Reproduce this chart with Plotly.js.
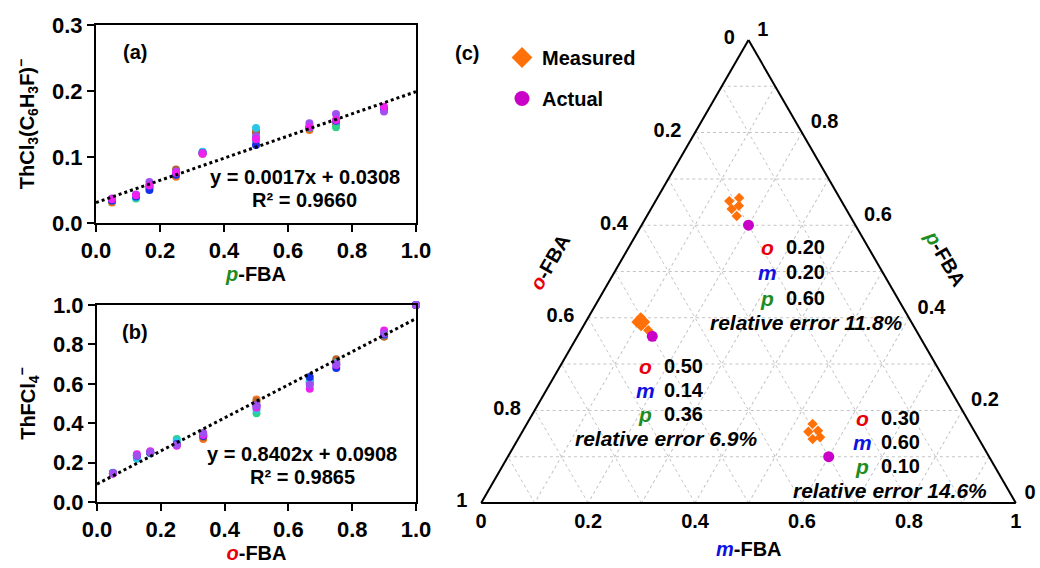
<!DOCTYPE html>
<html><head><meta charset="utf-8">
<script src="https://cdn.plot.ly/plotly-3.0.1.min.js"></script>
<style>html,body{margin:0;padding:0;background:#fff}</style>
</head><body><div id="chart" style="width:1040px;height:568px"></div>
<script>
// ---------- Panel (a): ThCl3(C6H3F)- vs p-FBA ----------
const xA = [0.05, 0.125, 0.167, 0.25, 0.333, 0.5, 0.667, 0.75, 0.9];
const aOrange  = [0.031, 0.040, 0.055, 0.070, 0.105, 0.139, 0.141, 0.150, 0.173];
const aBrown   = [0.033, 0.041, 0.056, 0.081, 0.106, 0.137, 0.143, 0.152, 0.174];
const aGreen   = [0.034, 0.037, 0.054, 0.074, 0.107, 0.125, 0.144, 0.145, 0.172];
const aCyan    = [0.035, 0.039, 0.055, 0.075, 0.108, 0.144, 0.146, 0.154, 0.171];
const aBlue    = [0.034, 0.040, 0.050, 0.073, 0.106, 0.118, 0.145, 0.155, 0.172];
const aPurple  = [0.037, 0.043, 0.062, 0.078, 0.106, 0.131, 0.151, 0.165, 0.169];
const aMagenta = [0.036, 0.042, 0.057, 0.076, 0.105, 0.127, 0.145, 0.156, 0.176];
const trendAx = [0, 1];
const trendAy = [0.031, 0.199];

// ---------- Panel (b): ThFCl4- vs o-FBA ----------
const xB = [0.05, 0.125, 0.167, 0.25, 0.333, 0.5, 0.667, 0.75, 0.9, 1.0];
const bOrange  = [0.145, 0.235, 0.250, 0.290, 0.320, 0.520, 0.605, 0.715, 0.840, 1.0];
const bBrown   = [0.146, 0.237, 0.250, 0.290, 0.330, 0.510, 0.615, 0.725, 0.840, 1.0];
const bGreen   = [0.147, 0.230, 0.252, 0.320, 0.340, 0.450, 0.600, 0.700, 0.850, 1.0];
const bCyan    = [0.148, 0.220, 0.248, 0.310, 0.340, 0.470, 0.610, 0.705, 0.850, 1.0];
const bBlue    = [0.146, 0.235, 0.250, 0.295, 0.335, 0.490, 0.635, 0.680, 0.850, 1.0];
const bMagenta = [0.145, 0.243, 0.257, 0.285, 0.340, 0.480, 0.575, 0.695, 0.870, 1.0];
const bPurple  = [0.146, 0.235, 0.253, 0.290, 0.350, 0.490, 0.595, 0.700, 0.855, 1.0];
const trendBx = [0, 1];
const trendBy = [0.091, 0.931];

// ---------- Panel (c): ternary ----------
const measuredP = [0.652, 0.659, 0.642, 0.635, 0.620, 0.401, 0.391, 0.391, 0.382, 0.373, 0.171, 0.154, 0.156, 0.138, 0.142];
const measuredO = [0.210, 0.188, 0.197, 0.214, 0.212, 0.501, 0.514, 0.498, 0.510, 0.501, 0.295, 0.311, 0.292, 0.311, 0.295];
const measuredM = [0.138, 0.153, 0.161, 0.151, 0.168, 0.098, 0.095, 0.111, 0.108, 0.126, 0.535, 0.535, 0.552, 0.551, 0.563];
const actualO = [0.20, 0.50, 0.30];
const actualM = [0.20, 0.14, 0.60];
const actualP = [0.60, 0.36, 0.10];
const relErrors = ['11.8%', '6.9%', '14.6%'];
const ternTicks = [0, 0.1, 0.2, 0.3, 0.4, 0.5, 0.6, 0.7, 0.8, 0.9, 1];

// ---------- helpers ----------
const W = 1040, H = 568;
const px = x => x / W;
const py = y => 1 - y / H;
const FONT = 'Liberation Sans, Arial, sans-serif';
const RED = '#E8000B', BLUE = '#1010E0', GREEN = '#1E8C1E';
const f = (size, color) => ({size, color: color || '#000', family: FONT, weight: 'bold'});

const colA = [
  ['#F5731E', aOrange], ['#B0652E', aBrown], ['#2ED38A', aGreen], ['#29C6E6', aCyan],
  ['#1530E8', aBlue], ['#A050F0', aPurple], ['#F020F0', aMagenta]
];
const colB = [
  ['#F5731E', bOrange], ['#B0652E', bBrown], ['#2ED38A', bGreen], ['#29C6E6', bCyan],
  ['#1530E8', bBlue], ['#F020F0', bMagenta], ['#A050F0', bPurple]
];

const traces = [];
colA.forEach(([c, ys]) => traces.push({
  type: 'scatter', mode: 'markers', x: xA, y: ys, xaxis: 'x', yaxis: 'y',
  marker: {color: c, size: 8}, showlegend: false, cliponaxis: false
}));
traces.push({type: 'scatter', mode: 'lines', x: trendAx, y: trendAy, xaxis: 'x', yaxis: 'y',
  line: {color: '#000', width: 3, dash: 'dot'}, showlegend: false});
colB.forEach(([c, ys]) => traces.push({
  type: 'scatter', mode: 'markers', x: xB, y: ys, xaxis: 'x2', yaxis: 'y2',
  marker: {color: c, size: 8}, showlegend: false, cliponaxis: false
}));
traces.push({type: 'scatter', mode: 'lines', x: trendBx, y: trendBy, xaxis: 'x2', yaxis: 'y2',
  line: {color: '#000', width: 3, dash: 'dot'}, showlegend: false});

// ternary: a = p-FBA (top), b = o-FBA (bottom-left), c = m-FBA (bottom-right)
traces.push({type: 'scatterternary', mode: 'markers', a: measuredP, b: measuredO, c: measuredM,
  marker: {symbol: 'diamond', color: '#FF7008', size: 8}, showlegend: false, cliponaxis: false});
traces.push({type: 'scatterternary', mode: 'markers', a: actualP, b: actualO, c: actualM,
  marker: {symbol: 'circle', color: '#C800C8', size: 11}, showlegend: false, cliponaxis: false});
// legend entries (no data points of their own)
traces.push({type: 'scatterternary', mode: 'markers', a: [null], b: [null], c: [null], name: 'Measured',
  legendgroup: 'g1', marker: {symbol: 'diamond', color: '#FF7008', size: 16}});
traces.push({type: 'scatterternary', mode: 'markers', a: [null], b: [null], c: [null], name: 'Actual',
  legendgroup: 'g2', marker: {symbol: 'circle', color: '#C800C8', size: 15}});

const revText = ternTicks.map((v, i) => i % 2 === 0 ? String(+(1 - v).toFixed(1)) : '');
const ternAxis = (pushOut) => ({
  tickmode: 'array', tickvals: ternTicks, ticktext: revText,
  ticks: pushOut ? 'outside' : '', ticklen: pushOut, tickcolor: 'rgba(0,0,0,0)',
  showline: true, linecolor: '#000', linewidth: 2,
  showgrid: true, gridcolor: '#C4C4C4', gridwidth: 1, griddash: 'dot',
  tickfont: f(20), title: {text: ''}
});

const cartAxis = (extra) => Object.assign({
  showline: true, linecolor: '#000', linewidth: 2, mirror: true,
  ticks: 'outside', ticklen: 7, tickwidth: 2, tickcolor: '#000',
  showgrid: false, zeroline: false, tickformat: '.1f',
  tickfont: f(22)
}, extra);

const ann = [];
const T = (text, x, y, opt) => ann.push(Object.assign({
  text, x: px(x), y: py(y), xref: 'paper', yref: 'paper', showarrow: false,
  xanchor: 'center', yanchor: 'middle', font: f(20)
}, opt || {}));

T('(a)', 135, 52);
T('(b)', 135, 332);
T('(c)', 467, 53);
T('y = 0.0017x + 0.0308', 305, 177);
T('R² = 0.9660', 304, 200);
T('y = 0.8402x + 0.0908', 302, 454);
T('R² = 0.9865', 302, 477);

// axis titles of ternary
T("<span style='color:" + RED + "'><i>o</i></span>-FBA", 550, 262, {textangle: -60});
T("<span style='color:" + GREEN + "'><i>p</i></span>-FBA", 945, 258, {textangle: 60});
T("<span style='color:" + BLUE + "'><i>m</i></span>-FBA", 749, 549);

// composition labels
const blocks = [[767, 784, [247, 272, 298], 806, 322], [645, 662, [366, 390, 414], 666, 438], [862, 879, [418, 442, 466], 890, 490]];
blocks.forEach(([lx, nx, ys, ex, ey], i) => {
  const vals = [actualO[i], actualM[i], actualP[i]];
  const letters = [['o', RED], ['m', BLUE], ['p', GREEN]];
  letters.forEach(([l, c], j) => {
    T('<i>' + l + '</i>', lx, ys[j], {font: f(21, c)});
    T(vals[j].toFixed(2), nx, ys[j], {xanchor: 'left'});
  });
  T('<i>relative error ' + relErrors[i] + '</i>', ex, ey, {font: f(21)});
});

const layout = {
  width: W, height: H, margin: {l: 0, r: 0, t: 0, b: 0},
  paper_bgcolor: '#fff', plot_bgcolor: 'rgba(0,0,0,0)',
  font: f(20),
  xaxis: cartAxis({domain: [px(96), px(416)], range: [0, 1], dtick: 0.2, anchor: 'y',
    title: {text: "<span style='color:" + GREEN + "'><i>p</i></span>-FBA", font: f(20), standoff: 0}}),
  yaxis: cartAxis({domain: [py(223), py(25)], range: [0, 0.3], dtick: 0.1, anchor: 'x',
    title: {text: 'ThCl<sub>3</sub>(C<sub>6</sub>H<sub>3</sub>F)<sup>−</sup>', font: f(20), standoff: 12}}),
  xaxis2: cartAxis({domain: [px(97), px(416)], range: [0, 1], dtick: 0.2, anchor: 'y2',
    title: {text: "<span style='color:" + RED + "'><i>o</i></span>-FBA", font: f(20), standoff: 2}}),
  yaxis2: cartAxis({domain: [py(502), py(305)], range: [0, 1], dtick: 0.2, anchor: 'x2',
    title: {text: 'ThFCl<sub>4</sub><sup>−</sup>', font: f(20), standoff: 12}}),
  ternary: {
    domain: {x: [px(481), px(1016)], y: [py(503), py(40)]},
    sum: 1, bgcolor: 'rgba(0,0,0,0)',
    aaxis: ternAxis(10), baxis: ternAxis(0), caxis: ternAxis(10)
  },
  showlegend: true,
  legend: {x: px(502), y: py(38), xanchor: 'left', yanchor: 'top', bgcolor: 'rgba(0,0,0,0)',
    font: f(20), traceorder: 'grouped', tracegroupgap: 12},
  annotations: ann
};

Plotly.newPlot('chart', traces, layout, {displayModeBar: false, staticPlot: true});
</script>
</body></html>
